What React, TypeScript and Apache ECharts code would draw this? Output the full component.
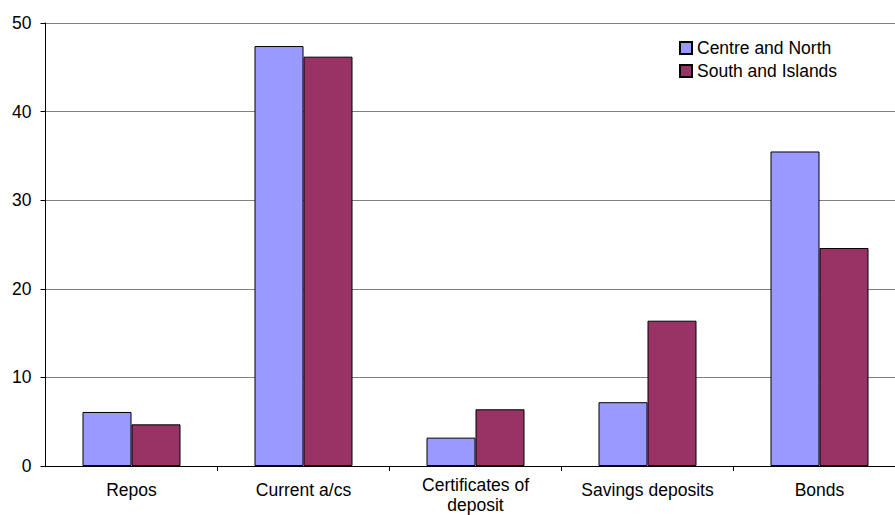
import React, { useEffect, useRef } from "react";
import * as echarts from "echarts";

const categories = ["Repos", "Current a/cs", "Certificates of\ndeposit", "Savings deposits", "Bonds"];
const centreNorth = [6.1, 47.4, 3.2, 7.2, 35.5];
const southIslands = [4.7, 46.2, 6.4, 16.4, 24.6];
const seriesNames = ["Centre and North", "South and Islands"];
const yTicks = { min: 0, max: 50, interval: 10 };

const FONT = "'Liberation Sans', Arial, sans-serif";

const GRID_LEFT = 45.5;
const GRID_WIDTH = 849.5;
const CAT_PX = 172; // pixel width of one category band in the reference

function labelFor(v: number): string {
  const name = categories[Math.round(v)] ?? "";
  const lines = name.split("\n");
  if (lines.length === 1) return `{a|${lines[0]}}`;
  return lines.map((l, i) => (i === 0 ? `{c|${l}}` : `{d|${l}}`)).join("\n");
}

export default function App() {
  const ref = useRef<HTMLDivElement>(null);
  useEffect(() => {
    if (!ref.current) return;
    const chart = echarts.init(ref.current, undefined, { renderer: "svg" });
    const catIdx = categories.map((_, i) => i);
    const bounds = categories.slice(1).map((_, i) => i + 0.5);
    const txt = { fontFamily: FONT, fontSize: 17.5, color: "#000" };
    chart.setOption({
      animation: false,
      backgroundColor: "#ffffff",
      textStyle: { fontFamily: FONT },
      grid: { left: GRID_LEFT, top: 23, width: GRID_WIDTH, height: 443, containLabel: false },
      legend: {
        orient: "vertical",
        left: 679,
        top: 39,
        padding: 0,
        itemWidth: 12,
        itemHeight: 12,
        itemGap: 5,
        icon: "rect",
        textStyle: { ...txt, lineHeight: 18 },
        data: seriesNames,
      },
      xAxis: {
        type: "value",
        min: -0.5,
        max: -0.5 + GRID_WIDTH / CAT_PX,
        splitLine: { show: false },
        axisLine: { show: true, onZero: false, lineStyle: { color: "#000", width: 1 } },
        axisTick: { show: true, length: 5, customValues: bounds, lineStyle: { color: "#000" } },
        axisLabel: {
          customValues: catIdx,
          formatter: labelFor,
          margin: 14,
          ...txt,
          rich: {
            a: { ...txt, lineHeight: 20 },
            c: { ...txt, lineHeight: 9 },
            d: { ...txt, lineHeight: 31 },
          },
        },
      },
      yAxis: {
        type: "value",
        min: yTicks.min,
        max: yTicks.max,
        interval: yTicks.interval,
        axisLine: { show: true, onZero: false, lineStyle: { color: "#000", width: 1 } },
        axisTick: { show: true, length: 5, lineStyle: { color: "#000" } },
        axisLabel: { margin: 14, ...txt },
        splitLine: { show: true, lineStyle: { color: "#808080", width: 1 } },
      },
      series: [
        {
          name: seriesNames[0],
          type: "bar",
          data: centreNorth.map((v, i) => [i, v]),
          barWidth: 49,
          barGap: "0%",
          itemStyle: { color: "#9999FF", borderColor: "#000", borderWidth: 1 },
        },
        {
          name: seriesNames[1],
          type: "bar",
          data: southIslands.map((v, i) => [i, v]),
          barWidth: 49,
          barGap: "0%",
          itemStyle: { color: "#993366", borderColor: "#000", borderWidth: 1 },
        },
      ],
    });
    return () => chart.dispose();
  }, []);
  return (
    <div style={{ position: "fixed", left: 0, top: 0, width: 895, height: 515, overflow: "hidden" }}>
      <div ref={ref} style={{ width: 895, height: 515, overflow: "hidden" }} />
    </div>
  );
}
